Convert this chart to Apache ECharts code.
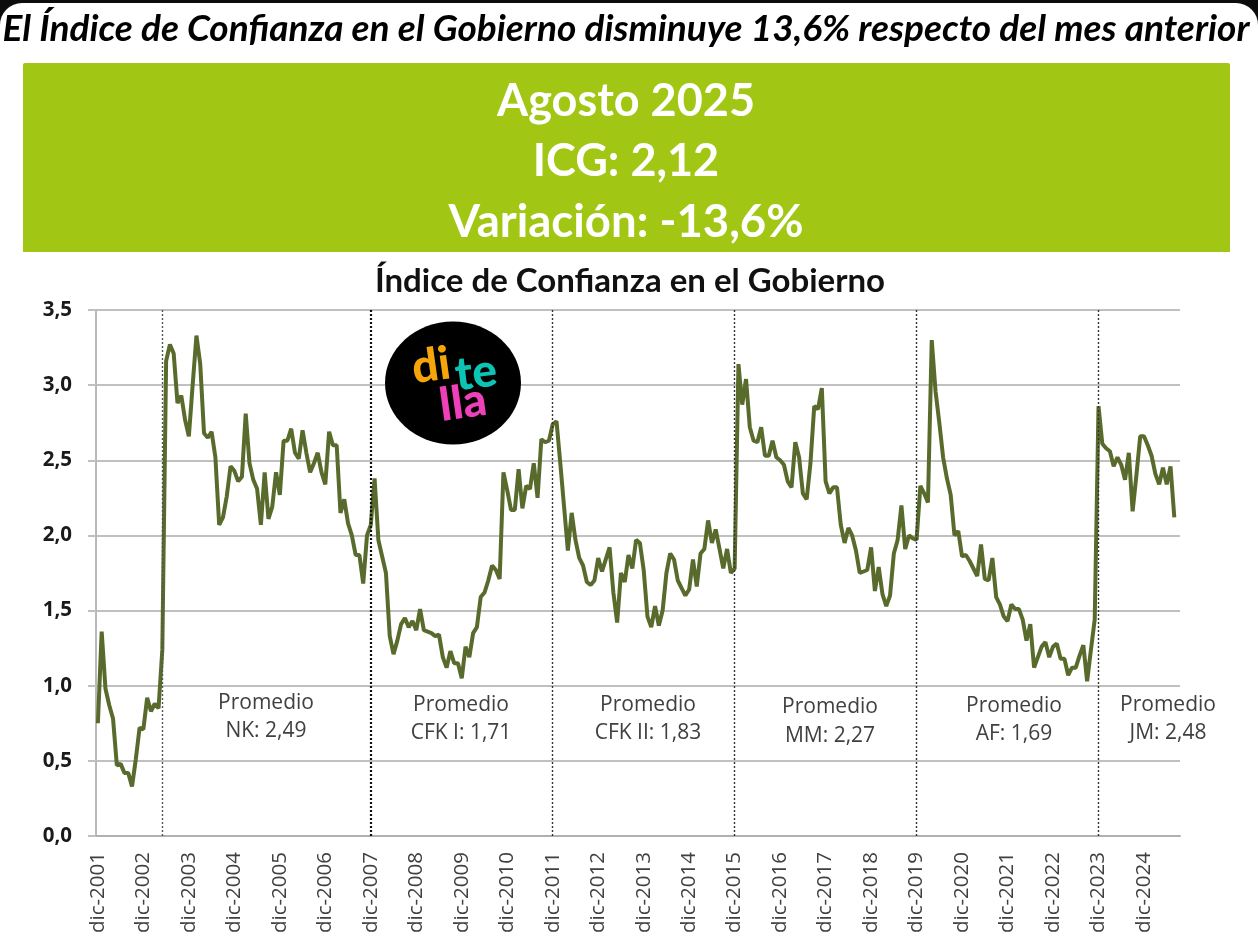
<!DOCTYPE html>
<html>
<head>
<meta charset="utf-8">
<style>html,body{margin:0;padding:0;background:#fff}#c{width:1258px;height:939px}</style>
<script src="https://cdn.jsdelivr.net/npm/echarts@6/dist/echarts.min.js"></script>
</head>
<body>
<div id="c"></div>
<script>
const monthNames = ['ene','feb','mar','abr','may','jun','jul','ago','sep','oct','nov','dic'];
const firstYear = 2001;
const monthCount = 286;
const categories = [];
for (let i = 0; i < monthCount; i++) {
  const m = (11 + i) % 12;
  const y = firstYear + Math.floor((11 + i) / 12);
  categories.push(monthNames[m] + '-' + y);
}
const icgValues = [
0.75,1.36,0.98,0.87,0.78,0.47,0.48,0.42,0.42,0.33,0.51,0.72,
0.71,0.92,0.83,0.88,0.85,1.24,3.16,3.27,3.21,2.88,2.93,2.77,
2.66,3.00,3.33,3.14,2.68,2.65,2.69,2.52,2.07,2.12,2.26,2.46,
2.43,2.36,2.39,2.81,2.48,2.37,2.31,2.07,2.42,2.11,2.19,2.42,
2.27,2.63,2.63,2.71,2.55,2.51,2.70,2.55,2.42,2.48,2.55,2.42,
2.34,2.69,2.60,2.60,2.15,2.24,2.08,2.00,1.87,1.87,1.68,2.00,
2.07,2.38,1.97,1.86,1.75,1.33,1.21,1.30,1.41,1.45,1.39,1.43,
1.37,1.51,1.37,1.36,1.35,1.33,1.34,1.19,1.12,1.23,1.15,1.15,
1.05,1.26,1.19,1.35,1.39,1.59,1.62,1.70,1.80,1.77,1.71,2.42,
2.30,2.17,2.17,2.44,2.18,2.33,2.31,2.48,2.25,2.64,2.62,2.63,
2.74,2.76,2.48,2.19,1.90,2.15,1.97,1.85,1.80,1.69,1.67,1.70,
1.85,1.76,1.84,1.92,1.62,1.42,1.75,1.69,1.87,1.78,1.97,1.95,
1.77,1.46,1.39,1.53,1.40,1.50,1.75,1.88,1.84,1.70,1.65,1.60,
1.64,1.84,1.66,1.88,1.91,2.10,1.95,2.04,1.91,1.78,1.91,1.75,
1.78,3.14,2.87,3.04,2.72,2.63,2.62,2.72,2.53,2.53,2.63,2.52,
2.50,2.47,2.36,2.32,2.62,2.52,2.28,2.24,2.48,2.86,2.84,2.98,
2.36,2.28,2.32,2.32,2.07,1.95,2.05,2.00,1.90,1.75,1.76,1.77,
1.92,1.63,1.79,1.61,1.53,1.60,1.88,1.97,2.20,1.91,2.00,1.98,
1.97,2.33,2.28,2.22,3.30,2.96,2.75,2.52,2.38,2.27,2.00,2.03,
1.86,1.87,1.83,1.78,1.73,1.94,1.71,1.70,1.85,1.59,1.54,1.46,
1.43,1.54,1.51,1.51,1.44,1.30,1.41,1.12,1.19,1.26,1.29,1.19,
1.26,1.28,1.18,1.18,1.07,1.12,1.12,1.20,1.27,1.03,1.24,1.44,
2.86,2.61,2.58,2.56,2.46,2.52,2.47,2.37,2.55,2.16,2.40,2.66,
2.66,2.60,2.53,2.41,2.34,2.45,2.34,2.46,2.12];
const dividerMonths = ['may-2003','dic-2007','dic-2011','dic-2015','dic-2019','dic-2023'];
const headline = 'El Índice de Confianza en el Gobierno disminuye 13,6% respecto del mes anterior';
const bannerLines = ['Agosto 2025','ICG: 2,12','Variación: -13,6%'];
const chartTitle = 'Índice de Confianza en el Gobierno';
const averages = [
  ['Promedio','NK: 2,49'],['Promedio','CFK I: 1,71'],['Promedio','CFK II: 1,83'],
  ['Promedio','MM: 2,27'],['Promedio','AF: 1,69'],['Promedio','JM: 2,48']
];
const averagePos = [[266,703,731],[461,705,733],[648,705,733],[830,707,736],[1014,706,734],[1168,705,733]];

const lineColor = '#586b2c', grid = '#c0c0c0';
function text(t, x, y, size, fill) {
  return {type:'text', z:50, style:{text:t, x:x, y:y, fill:fill, font:size, textAlign:'center', textVerticalAlign:'middle'}};
}
function logoText(t, x, y, rot, fill) {
  return {type:'text', z:61, x:x, y:y, rotation:rot, style:{text:t, fill:fill, font:'900 46px Lato', textAlign:'center', textVerticalAlign:'middle'}};
}
const graphics = [
  {type:'rect', z:-100, shape:{x:0,y:3,width:1258,height:936,r:[22,22,0,0]}, style:{fill:'#fff'}},
  {type:'rect', z:-50, shape:{x:23,y:63,width:1207,height:189,r:[2,2,0,0]}, style:{fill:'#a1c714'}},
  text(headline, 626, 29, 'italic bold 37px Lato', '#000'),
  text(bannerLines[0], 626, 101, 'bold 45px Lato', '#fff'),
  text(bannerLines[1], 626, 161, 'bold 45px Lato', '#fff'),
  text(bannerLines[2], 626, 222, 'bold 45.5px Lato', '#fff'),
  text(chartTitle, 630, 281, 'bold 33px Lato', '#111'),
  {type:'ellipse', z:60, shape:{cx:453,cy:383,rx:68,ry:61.5}, style:{fill:'#000'}},
  logoText('di', 431, 366, 0.14, '#f5a50a'),
  logoText('te', 476, 373, 0.12, '#0cc4b4'),
  logoText('lla', 463, 403, 0.14, '#ee40b8')
];
averages.forEach((a,i)=>{
  const p = averagePos[i];
  graphics.push(text(a[0], p[0], p[1], '21px "Open Sans"', '#404040'));
  graphics.push(text(a[1], p[0], p[2], '21px "Open Sans"', '#404040'));
});
const dividerData = dividerMonths.map((m,i)=>({
  xAxis:m,
  lineStyle:{color: i===1 ? '#111' : (i===0 ? '#555' : '#333'), width: i===1 ? 2.2 : 1.4, type:[2,2]}
}));
const chart = echarts.init(document.getElementById('c'), null, {renderer:'canvas', width:1258, height:939});
chart.setOption({
  animation:false,
  backgroundColor:'#0c0c0c',
  grid:{left:96, top:310, width:1084, height:526, containLabel:false},
  xAxis:{
    type:'category', data:categories, boundaryGap:true,
    axisLine:{lineStyle:{color:'#b0b0b0', width:2}},
    axisTick:{interval:11, length:6, lineStyle:{color:'#b0b0b0', width:1.5}},
    axisLabel:{interval:11, rotate:90, margin:16, color:'#404040', fontFamily:'Open Sans', fontSize:20.5},
    splitLine:{show:false}
  },
  yAxis:{
    type:'value', min:0, max:3.5, interval:0.5,
    axisLine:{show:true, lineStyle:{color:'#b8b8b8', width:2}},
    axisTick:{show:true, length:8, lineStyle:{color:grid, width:2}},
    axisLabel:{margin:24, color:'#1a1a1a', fontFamily:'Open Sans', fontWeight:'bold', fontSize:20.5,
      formatter:v=>v.toFixed(1).replace('.',',')},
    splitLine:{show:true, lineStyle:{color:grid, width:2}}
  },
  series:[{
    type:'line', data:icgValues, showSymbol:false, smooth:false, z:5,
    lineStyle:{color:lineColor, width:4}, itemStyle:{color:lineColor},
    markLine:{silent:true, symbol:'none', label:{show:false}, z:6, data:dividerData}
  }],
  graphic:graphics
});
</script>
</body>
</html>
